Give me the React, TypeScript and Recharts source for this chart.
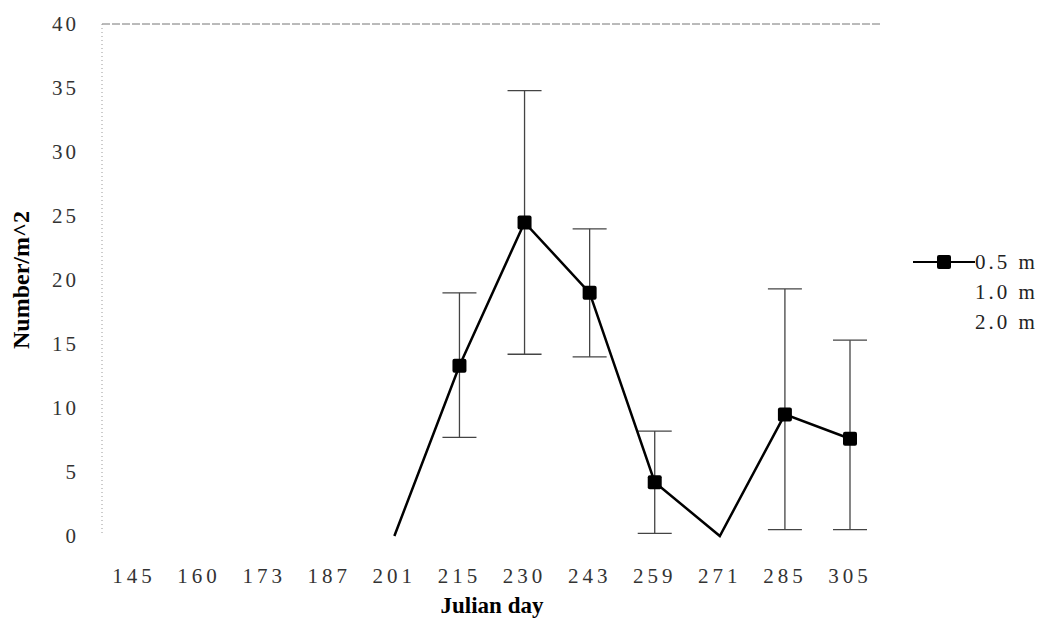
import React from 'react';
import { LineChart, Line, XAxis, YAxis, ErrorBar, ReferenceLine } from 'recharts';

const days = ['145', '160', '173', '187', '201', '215', '230', '243', '259', '271', '285', '305'];
const depth05 = [null, null, null, null, 0, 13.3, 24.5, 19, 4.2, 0, 9.5, 7.6];
const errLow05 = [0, 0, 0, 0, 0, 5.6, 10.3, 5, 4, 0, 9.0, 7.1];
const errHigh05 = [0, 0, 0, 0, 0, 5.7, 10.3, 5, 4, 0, 9.8, 7.7];
const seriesNames = ['0.5 m', '1.0 m', '2.0 m'];
const yTicks = [0, 5, 10, 15, 20, 25, 30, 35, 40];

const chartData = days.map((day, i) => ({
  day,
  d05: depth05[i],
  e05: depth05[i] === null || errHigh05[i] === 0 ? undefined : [errLow05[i], errHigh05[i]],
}));

const font = '"Liberation Serif", "Times New Roman", serif';

const SquareDot = (props: any) => {
  const { cx, cy, value, index } = props;
  if (value === null || value === undefined || value === 0) return <g key={index} />;
  return <rect key={index} x={cx - 7} y={cy - 7} width={14} height={14} rx={2} fill="#000" />;
};

const LegendBox = () => (
  <div
    style={{
      position: 'absolute',
      left: 913,
      top: 247,
      fontFamily: font,
      fontSize: 21,
      color: '#222',
      letterSpacing: 3,
    }}
  >
    {seriesNames.map((name, i) => (
      <div key={name} style={{ height: 30, display: 'flex', alignItems: 'center' }}>
        <svg width={62} height={16}>
          {i === 0 && (
            <>
              <line x1={0} y1={8} x2={62} y2={8} stroke="#000" strokeWidth={2} />
              <rect x={24} y={1} width={14} height={14} rx={2} fill="#000" />
            </>
          )}
        </svg>
        <span>{name}</span>
      </div>
    ))}
  </div>
);

const App = () => {
  return (
    <div style={{ position: 'absolute', left: 0, top: 0, width: 1064, height: 636, background: '#fff' }}>
      <LineChart
        width={1064}
        height={636}
        data={chartData}
        margin={{ top: 24, right: 182, left: 0, bottom: 20 }}
      >
        <XAxis
          dataKey="day"
          axisLine={false}
          tickLine={false}
          tickMargin={26}
          height={80}
          padding={{ left: 32, right: 32 }}
          tick={{ fontFamily: font, fontSize: 21, fill: '#333', letterSpacing: 4 }}
          label={{
            value: 'Julian day',
            position: 'insideBottom',
            offset: 3,
            style: { fontFamily: font, fontSize: 23, fontWeight: 'bold', fill: '#000' },
          }}
        />
        <YAxis
          domain={[0, 40]}
          ticks={yTicks}
          width={102}
          tickLine={false}
          tickMargin={17}
          axisLine={{ stroke: '#999', strokeDasharray: '1 3' }}
          tick={{ fontFamily: font, fontSize: 21, fill: '#333', letterSpacing: 3 }}
          label={{
            value: 'Number/m^2',
            angle: -90,
            position: 'insideLeft',
            offset: 20,
            style: { fontFamily: font, fontSize: 24, fontWeight: 'bold', fill: '#000', textAnchor: 'middle' },
          }}
        />
        <ReferenceLine y={40} stroke="#777" strokeDasharray="8 2" />
        <Line
          type="linear"
          dataKey="d05"
          name="0.5 m"
          stroke="#000"
          strokeWidth={2.5}
          dot={<SquareDot />}
          activeDot={false}
          connectNulls={false}
          isAnimationActive={false}
        >
          <ErrorBar dataKey="e05" width={17} stroke="#444" strokeWidth={1.3} direction="y" />
        </Line>
      </LineChart>
      <LegendBox />
    </div>
  );
};

export default App;
